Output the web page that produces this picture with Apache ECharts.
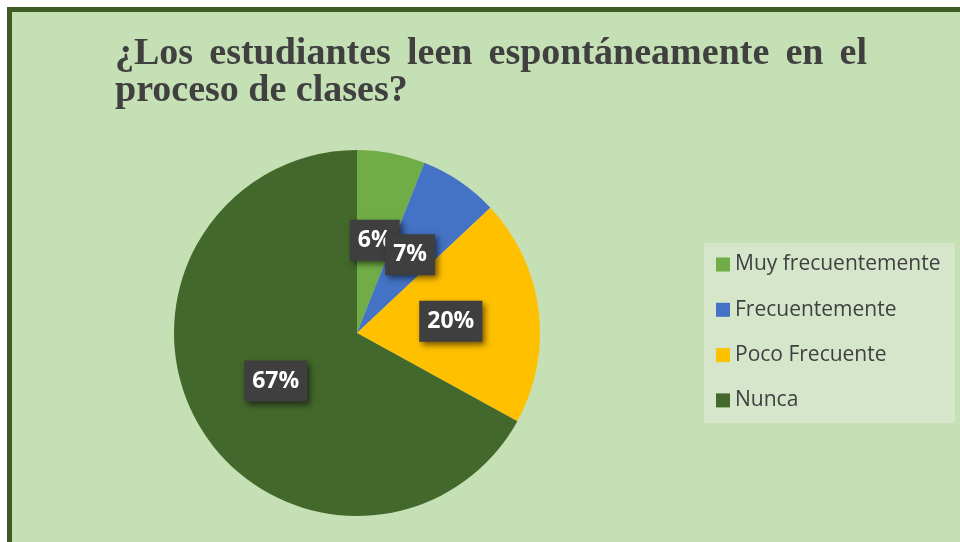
<!DOCTYPE html>
<html>
<head>
<meta charset="utf-8">
<script src="https://cdn.jsdelivr.net/npm/echarts@6/dist/echarts.min.js"></script>
<style>
html,body{margin:0;padding:0;background:#ffffff;}
#chart{width:960px;height:542px;}
</style>
</head>
<body>
<div id="chart"></div>
<script>
// ---- data ----
const titleLines = ['¿Los estudiantes leen espontáneamente en el', 'proceso de clases?'];
const categories = ['Muy frecuentemente', 'Frecuentemente', 'Poco Frecuente', 'Nunca'];
const values = [6, 7, 20, 67];
const palette = ['#70AD47', '#4472C4', '#FFC000', '#43682B'];

// ---- title layout (justified first line) ----
const titleFont = 'bold 38px "Liberation Serif"';
const titleLeft = 115, titleRight = 867;
const cvs = document.createElement('canvas').getContext('2d');
cvs.font = titleFont;
const graphics = [];
graphics.push({
  type: 'rect', z: 0, silent: true,
  shape: { x: 9.5, y: 9.5, width: 1000, height: 600 },
  style: { fill: '#C5E0B4', stroke: '#3D5C23', lineWidth: 5 }
});
graphics.push({
  type: 'rect', z: 1, silent: true,
  shape: { x: 704, y: 243, width: 251, height: 180 },
  style: { fill: '#D6E6CB' }
});
const words = titleLines[0].split(' ');
const widths = words.map(w => cvs.measureText(w).width);
const total = widths.reduce((a, b) => a + b, 0);
const gap = (titleRight - titleLeft - total) / (words.length - 1);
let xx = titleLeft;
words.forEach((w, i) => {
  graphics.push({
    type: 'text', z: 5, silent: true,
    style: { text: w, x: xx, y: 54, font: titleFont, fill: '#404040', verticalAlign: 'middle', align: 'left' }
  });
  xx += widths[i] + gap;
});
graphics.push({
  type: 'text', z: 5, silent: true,
  style: { text: titleLines[1], x: titleLeft, y: 91, font: titleFont, fill: '#404040', verticalAlign: 'middle', align: 'left' }
});

const chart = echarts.init(document.getElementById('chart'), null, { renderer: 'canvas' });
chart.setOption({
  animation: false,
  backgroundColor: 'transparent',
  color: palette,
  graphic: graphics,
  legend: {
    orient: 'vertical',
    left: 716,
    top: 254,
    padding: 0,
    itemGap: 24.3,
    itemWidth: 14,
    itemHeight: 14,
    icon: 'rect',
    data: categories,
    textStyle: { fontFamily: 'Open Sans', fontSize: 21, color: '#404040', lineHeight: 21 }
  },
  series: [{
    type: 'pie',
    center: [357, 333],
    radius: 183,
    startAngle: 90,
    clockwise: true,
    silent: true,
    itemStyle: { borderWidth: 0 },
    labelLayout: { hideOverlap: false },
    label: {
      show: true,
      position: 'inside',
      formatter: '{c}%',
      fontFamily: 'Open Sans',
      fontWeight: 'bold',
      fontSize: 23,
      lineHeight: 23,
      color: '#ffffff',
      backgroundColor: '#3F3F3F',
      padding: [9, 8, 9, 8],
      shadowColor: 'rgba(0,0,0,0.55)',
      shadowBlur: 6,
      shadowOffsetX: 3,
      shadowOffsetY: 3
    },
    labelLine: { show: false },
    data: categories.map((c, i) => ({ name: c, value: values[i] }))
  }]
});
</script>
</body>
</html>
